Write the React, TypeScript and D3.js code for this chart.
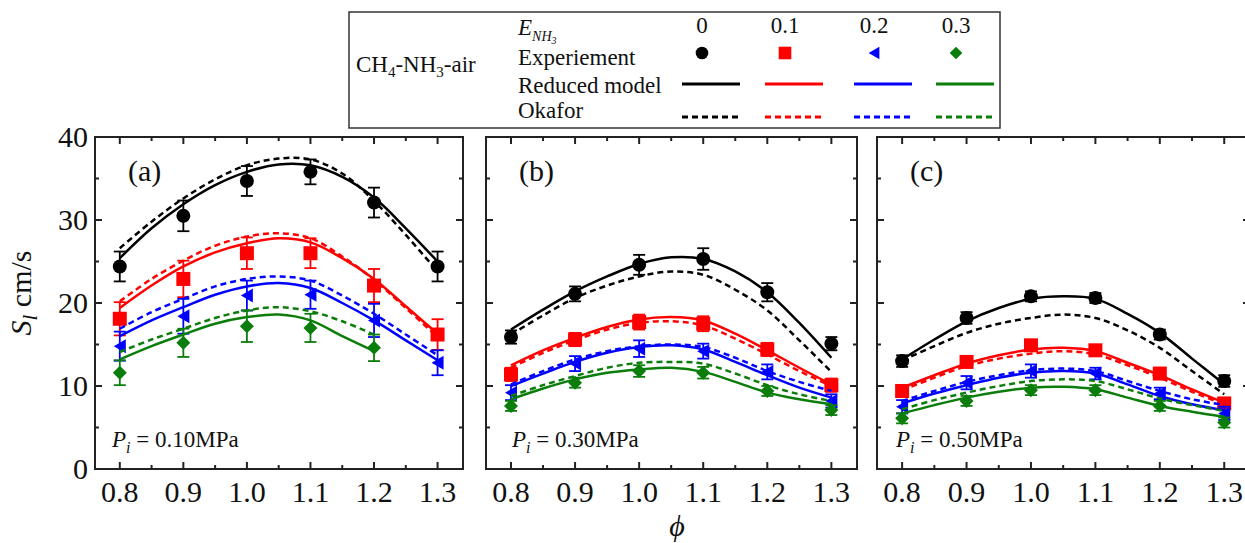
import React from "react";
import * as d3 from "d3";

// ---------------- DATA ----------------
const PHI_EXP = [0.8, 0.9, 1.0, 1.1, 1.2, 1.3];
const PHI_MODEL = [0.8, 0.85, 0.9, 0.95, 1.0, 1.05, 1.1, 1.15, 1.2, 1.25, 1.3];
const E_NH3_LABELS = ["0", "0.1", "0.2", "0.3"];
const PANEL_LABELS = ["(a)", "(b)", "(c)"];
const PRESSURES = ["0.10", "0.30", "0.50"];
const Y_TICKS = [0, 10, 20, 30, 40];
const X_TICKS = [0.8, 0.9, 1.0, 1.1, 1.2, 1.3];

// Panel (a) P = 0.10 MPa
const expA = [
  [24.4, 30.5, 34.7, 35.8, 32.1, 24.4],
  [18.1, 22.9, 26.0, 26.0, 22.1, 16.2],
  [14.8, 18.4, 20.9, 21.0, 17.9, 12.8],
  [11.6, 15.2, 17.2, 17.0, 14.6, null],
];
const errA = [
  [1.8, 1.85, 1.8, 1.5, 1.8, 1.8],
  [2.0, 2.2, 1.9, 1.8, 2.0, 1.85],
  [1.75, 2.1, 1.8, 1.7, 2.0, 1.5],
  [1.5, 1.7, 1.9, 1.7, 1.6, null],
];
const reducedA = [
  [25.4, 29.0, 31.9, 34.2, 35.8, 36.7, 36.6, 35.2, 32.7, 29.0, 25.0],
  [19.4, 22.1, 24.4, 26.1, 27.2, 27.8, 27.3, 25.4, 22.9, 19.6, 16.3],
  [16.0, 17.9, 19.5, 21.0, 22.0, 22.4, 21.8, 20.0, 17.9, 15.5, 13.1],
  [13.2, 14.8, 16.2, 17.5, 18.3, 18.6, 17.9, 16.0, 14.2, null, null],
];
const okaforA = [
  [26.6, 29.8, 32.6, 34.9, 36.6, 37.4, 37.3, 35.6, 32.3, 28.2, 23.8],
  [20.2, 22.9, 25.1, 26.9, 28.0, 28.4, 27.8, 25.6, 22.8, 19.4, 15.9],
  [16.9, 18.9, 20.5, 22.0, 22.9, 23.2, 22.7, 20.9, 18.7, 16.2, 13.7],
  [14.1, 15.6, 16.9, 18.2, 19.1, 19.5, 19.0, 17.8, 16.2, null, null],
];

// Panel (b) P = 0.30 MPa
const expB = [
  [15.9, 21.1, 24.6, 25.3, 21.3, 15.1],
  [11.4, 15.6, 17.7, 17.5, 14.4, 10.1],
  [9.2, 12.7, 14.5, 14.2, 11.7, 8.2],
  [7.6, 10.4, 11.8, 11.6, 9.4, 7.1],
];
const errB = [
  [0.8, 0.9, 1.2, 1.3, 1.1, 0.8],
  [0.8, 0.8, 0.9, 0.9, 0.8, 0.8],
  [0.9, 0.9, 1.0, 0.9, 0.9, 0.8],
  [0.6, 0.6, 0.7, 0.7, 0.6, 0.6],
];
const reducedB = [
  [16.8, 19.2, 21.4, 23.2, 24.7, 25.5, 25.3, 23.8, 21.3, 17.6, 13.4],
  [12.5, 14.3, 15.8, 17.1, 18.0, 18.3, 17.9, 16.3, 14.3, 12.2, 10.2],
  [10.0, 11.5, 12.9, 14.0, 14.7, 14.9, 14.4, 12.9, 11.3, 9.8, 8.6],
  [8.4, 9.7, 10.8, 11.6, 12.0, 12.2, 11.7, 10.5, 9.2, 8.4, 7.8],
];
const okaforB = [
  [16.2, 18.5, 20.6, 22.1, 23.2, 23.8, 23.4, 21.6, 19.1, 15.5, 11.7],
  [12.2, 14.0, 15.5, 16.8, 17.6, 17.8, 17.3, 15.7, 13.8, 11.8, 10.0],
  [10.2, 11.8, 13.2, 14.2, 14.8, 15.0, 14.7, 13.4, 11.8, 10.5, 9.4],
  [8.8, 10.1, 11.2, 12.2, 12.8, 12.9, 12.7, 11.5, 10.1, 9.0, 8.2],
];

// Panel (c) P = 0.50 MPa
const expC = [
  [13.0, 18.2, 20.8, 20.6, 16.2, 10.6],
  [9.4, 12.9, 14.9, 14.3, 11.5, 7.9],
  [7.5, 10.4, 11.8, 11.5, 9.1, 6.7],
  [6.1, 8.2, 9.5, 9.5, 7.6, 5.6],
];
const errC = [
  [0.7, 0.7, 0.6, 0.6, 0.6, 0.7],
  [0.6, 0.6, 0.6, 0.6, 0.6, 0.6],
  [0.8, 0.8, 0.8, 0.7, 0.7, 0.8],
  [0.6, 0.6, 0.6, 0.6, 0.6, 0.6],
];
const reducedC = [
  [13.2, 15.6, 17.8, 19.4, 20.5, 20.8, 20.5, 18.7, 16.4, 13.3, 10.2],
  [9.8, 11.3, 12.7, 13.7, 14.4, 14.6, 14.2, 12.8, 11.3, 9.6, 8.0],
  [7.9, 9.1, 10.1, 11.0, 11.6, 11.8, 11.5, 10.2, 8.8, 7.8, 7.1],
  [6.7, 7.7, 8.6, 9.3, 9.8, 9.9, 9.6, 8.6, 7.6, 6.9, 6.3],
];
const okaforC = [
  [13.1, 14.8, 16.4, 17.5, 18.2, 18.6, 18.2, 16.7, 14.6, 11.8, 9.0],
  [9.5, 11.0, 12.4, 13.3, 13.9, 14.2, 13.8, 12.5, 11.0, 9.3, 7.8],
  [8.2, 9.4, 10.5, 11.3, 11.9, 12.1, 11.8, 10.6, 9.4, 8.4, 7.7],
  [7.2, 8.3, 9.2, 10.0, 10.6, 10.8, 10.6, 9.6, 8.5, 7.7, 7.0],
];

const EXP = [expA, expB, expC];
const ERR = [errA, errB, errC];
const REDUCED = [reducedA, reducedB, reducedC];
const OKAFOR = [okaforA, okaforB, okaforC];

// ---------------- STYLE / LAYOUT ----------------
const W = 1245;
const H = 543;
const FONT = "'Liberation Serif','Times New Roman',Times,serif";
const COLORS = ["#000000", "#ff0000", "#0000ff", "#0b7d0b"];
const SHAPES = ["circle", "square", "triangle", "diamond"];
const AXIS_COLOR = "#222222";
const PANELS = [
  { left: 95, right: 463, pDx: 17 },
  { left: 486, right: 857, pDx: 26 },
  { left: 877, right: 1250, pDx: 19 },
];
const TOP = 137;
const BOTTOM = 469;
const X_DOMAIN = [0.761, 1.34];

function Marker({ shape, x, y, color, s = 1 }) {
  if (shape === "circle") return <circle cx={x} cy={y} r={7 * s} fill={color} />;
  if (shape === "square") {
    const h = 7 * s;
    return <rect x={x - h} y={y - h} width={2 * h} height={2 * h} fill={color} />;
  }
  if (shape === "triangle") {
    const pts = `${x - 6 * s},${y} ${x + 6 * s},${y - 7 * s} ${x + 6 * s},${y + 7 * s}`;
    return <polygon points={pts} fill={color} />;
  }
  const d = 7 * s;
  return <polygon points={`${x},${y - d} ${x + d},${y} ${x},${y + d} ${x - d},${y}`} fill={color} />;
}

function Panel({ idx }) {
  const { left, right, pDx } = PANELS[idx];
  const x = d3.scaleLinear().domain(X_DOMAIN).range([left, right]);
  const y = d3.scaleLinear().domain([0, 40]).range([BOTTOM, TOP]);
  const line = d3
    .line<[number, number | null]>()
    .defined((d) => d[1] != null)
    .x((d) => x(d[0]))
    .y((d) => y(d[1] as number))
    .curve(d3.curveCatmullRom.alpha(0.5));

  const xMajor = X_TICKS;
  const xMinor = d3.range(0.75, 1.36, 0.1).map((v) => +v.toFixed(2)).filter((v) => v > X_DOMAIN[0] && v < X_DOMAIN[1]);
  const yMajor = Y_TICKS;
  const yMinor = d3.range(5, 40, 10);
  const fmt = d3.format(".1f");

  return (
    <g>
      <defs>
        <clipPath id={`clip${idx}`}>
          <rect x={left} y={TOP} width={right - left} height={BOTTOM - TOP} />
        </clipPath>
      </defs>
      {/* series */}
      <g clipPath={`url(#clip${idx})`}>
        {EXP[idx].map((vals, s) => (
          <g key={"e" + s}>
            {vals.map((v, i) => {
              if (v == null) return null;
              const e = ERR[idx][s][i] as number;
              const cx = x(PHI_EXP[i]);
              return (
                <g key={i} stroke={COLORS[s]} strokeWidth={1.8}>
                  <line x1={cx} x2={cx} y1={y(v - e)} y2={y(v + e)} />
                  <line x1={cx - 6} x2={cx + 6} y1={y(v - e)} y2={y(v - e)} />
                  <line x1={cx - 6} x2={cx + 6} y1={y(v + e)} y2={y(v + e)} />
                </g>
              );
            })}
            {vals.map((v, i) =>
              v == null ? null : (
                <Marker key={"m" + i} shape={SHAPES[s]} x={x(PHI_EXP[i])} y={y(v)} color={COLORS[s]} />
              )
            )}
          </g>
        ))}
        {REDUCED[idx].map((vals, s) => (
          <path
            key={"r" + s}
            d={line(PHI_MODEL.map((p, i) => [p, vals[i]])) || ""}
            fill="none"
            stroke={COLORS[s]}
            strokeWidth={2.5}
          />
        ))}
        {OKAFOR[idx].map((vals, s) => (
          <path
            key={"o" + s}
            d={line(PHI_MODEL.map((p, i) => [p, vals[i]])) || ""}
            fill="none"
            stroke={COLORS[s]}
            strokeWidth={2.5}
            strokeDasharray="6,4"
          />
        ))}
      </g>
      {/* frame */}
      <rect x={left} y={TOP} width={right - left} height={BOTTOM - TOP} fill="none" stroke={AXIS_COLOR} strokeWidth={2} />
      {/* x ticks */}
      {xMajor.map((t) => (
        <g key={"xt" + t} stroke={AXIS_COLOR} strokeWidth={2}>
          <line x1={x(t)} x2={x(t)} y1={BOTTOM} y2={BOTTOM - 7} />
          <line x1={x(t)} x2={x(t)} y1={TOP} y2={TOP + 7} />
        </g>
      ))}
      {xMinor.map((t) => (
        <g key={"xm" + t} stroke={AXIS_COLOR} strokeWidth={2}>
          <line x1={x(t)} x2={x(t)} y1={BOTTOM} y2={BOTTOM - 4} />
          <line x1={x(t)} x2={x(t)} y1={TOP} y2={TOP + 4} />
        </g>
      ))}
      {yMajor.map((t) => (
        <g key={"yt" + t} stroke={AXIS_COLOR} strokeWidth={2}>
          <line x1={left} x2={left + 7} y1={y(t)} y2={y(t)} />
          <line x1={right} x2={right - 7} y1={y(t)} y2={y(t)} />
        </g>
      ))}
      {yMinor.map((t) => (
        <g key={"ym" + t} stroke={AXIS_COLOR} strokeWidth={2}>
          <line x1={left} x2={left + 4} y1={y(t)} y2={y(t)} />
          <line x1={right} x2={right - 4} y1={y(t)} y2={y(t)} />
        </g>
      ))}
      {/* tick labels */}
      {xMajor.map((t) => (
        <text key={"xl" + t} x={x(t)} y={BOTTOM + 33} textAnchor="middle" fontSize={30} fontFamily={FONT} fill="#111">
          {fmt(t)}
        </text>
      ))}
      {idx === 0 &&
        yMajor.map((t) => (
          <text key={"yl" + t} x={left - 7} y={y(t) + 10} textAnchor="end" fontSize={30} fontFamily={FONT} fill="#111">
            {t}
          </text>
        ))}
      {/* annotations */}
      <text x={left + 33} y={181} fontSize={30} fontFamily={FONT} fill="#111">
        {PANEL_LABELS[idx]}
      </text>
      <text x={left + pDx} y={447} fontSize={23} fontFamily={FONT} fill="#111">
        <tspan fontStyle="italic">P</tspan>
        <tspan fontStyle="italic" fontSize={16} dy={6}>i</tspan>
        <tspan dy={-6}>{` = ${PRESSURES[idx]}MPa`}</tspan>
      </text>
    </g>
  );
}

function Legend() {
  const cols = [702, 785, 874, 956];
  return (
    <g fontFamily={FONT} fill="#111">
      <rect x={349} y={12} width={651} height={116} fill="#fff" stroke="#333" strokeWidth={1.5} />
      <text x={356} y={72} fontSize={23}>
        <tspan>CH</tspan>
        <tspan fontSize={15} dy={5}>4</tspan>
        <tspan dy={-5}>-NH</tspan>
        <tspan fontSize={15} dy={5}>3</tspan>
        <tspan dy={-5}>-air</tspan>
      </text>
      <text x={518} y={35} fontSize={23}>
        <tspan fontStyle="italic">E</tspan>
        <tspan fontStyle="italic" fontSize={14} dy={6}>NH</tspan>
        <tspan fontStyle="italic" fontSize={10} dy={3}>3</tspan>
      </text>
      <text x={518} y={65} fontSize={23}>Experiement</text>
      <text x={518} y={93} fontSize={23}>Reduced model</text>
      <text x={518} y={118} fontSize={23}>Okafor</text>
      {E_NH3_LABELS.map((lab, i) => (
        <g key={lab}>
          <text x={cols[i]} y={33} fontSize={23} textAnchor="middle">
            {lab}
          </text>
          <Marker shape={SHAPES[i]} x={cols[i]} y={53} color={COLORS[i]} s={0.9} />
          <line x1={cols[i] - 20} x2={cols[i] + 38} y1={84} y2={84} stroke={COLORS[i]} strokeWidth={2.8} />
          <line
            x1={cols[i] - 20}
            x2={cols[i] + 38}
            y1={117}
            y2={117}
            stroke={COLORS[i]}
            strokeWidth={2.8}
            strokeDasharray="6,4"
          />
        </g>
      ))}
    </g>
  );
}

export default function App() {
  return (
    <div style={{ position: "absolute", left: 0, top: 0, width: W, height: H, overflow: "hidden", background: "#fff" }}>
      <svg width={W} height={H} viewBox={`0 0 ${W} ${H}`} style={{ display: "block" }}>
        <rect width={W} height={H} fill="#fff" />
        {PANELS.map((_, i) => (
          <Panel key={i} idx={i} />
        ))}
        <Legend />
        <text transform={`translate(31,293) rotate(-90)`} textAnchor="middle" fontSize={30} fontFamily={FONT} fill="#111">
          <tspan fontStyle="italic">S</tspan>
          <tspan fontStyle="italic" fontSize={21} dy={6}>l</tspan>
          <tspan dy={-6}> cm/s</tspan>
        </text>
        <text x={677} y={536} textAnchor="middle" fontSize={30} fontStyle="italic" fontFamily={FONT} fill="#111">
          {"\u03D5"}
        </text>
      </svg>
    </div>
  );
}
